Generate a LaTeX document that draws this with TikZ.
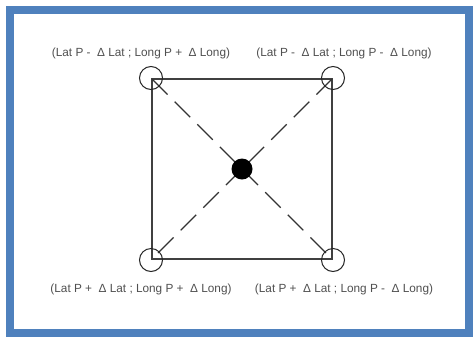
\documentclass[tikz,border=0pt]{standalone}
\usepackage{fontspec}
\setmainfont{Liberation Sans}
\definecolor{frameblue}{HTML}{4F81BD}
\definecolor{labelgray}{HTML}{505050}
\begin{document}
\begin{tikzpicture}[x=1pt,y=-1pt,
  corner/.style={circle,draw=black!85,line width=1pt,minimum size=23pt,inner sep=0pt},
  centre/.style={circle,fill=black,minimum size=21pt,inner sep=0pt},
  lbl/.style={text=labelgray,font=\fontsize{11.8}{13}\selectfont,inner sep=0pt},
  edge/.style={draw=black!75,line width=1.3pt},
  diag/.style={draw=black!80,line width=1.1pt,dash pattern=on 22pt off 10pt}]
\useasboundingbox (0,0) rectangle (473,338);
\fill[white] (0,0) rectangle (473,338);
\draw[frameblue,line width=8pt] (10,10) rectangle (469,333);
\coordinate (tl) at (152,79);
\coordinate (tr) at (332,79);
\coordinate (bl) at (152,259);
\coordinate (br) at (332,259);
\draw[edge] (tl) -- (tr) -- (br) -- (bl) -- cycle;
\draw[diag] (tl) -- (br);
\draw[diag] (tr) -- (bl);
\node[centre] (c) at (242,169) {};
\node[corner] (ctl) at (151,78) {};
\node[corner] (ctr) at (333,78) {};
\node[corner] (cbl) at (151,260) {};
\node[corner] (cbr) at (333,260) {};
\node[lbl] (ltl) at (141,53) {(Lat P -\ \ Δ Lat ; Long P +\ \ Δ Long)};
\node[lbl] (ltr) at (344,53) {(Lat P -\ \ Δ Lat ; Long P -\ \ Δ Long)};
\node[lbl] (lbl) at (141,289) {(Lat P +\ \ Δ Lat ; Long P +\ \ Δ Long)};
\node[lbl] (lbr) at (344,289) {(Lat P +\ \ Δ Lat ; Long P -\ \ Δ Long)};
\end{tikzpicture}
\end{document}
